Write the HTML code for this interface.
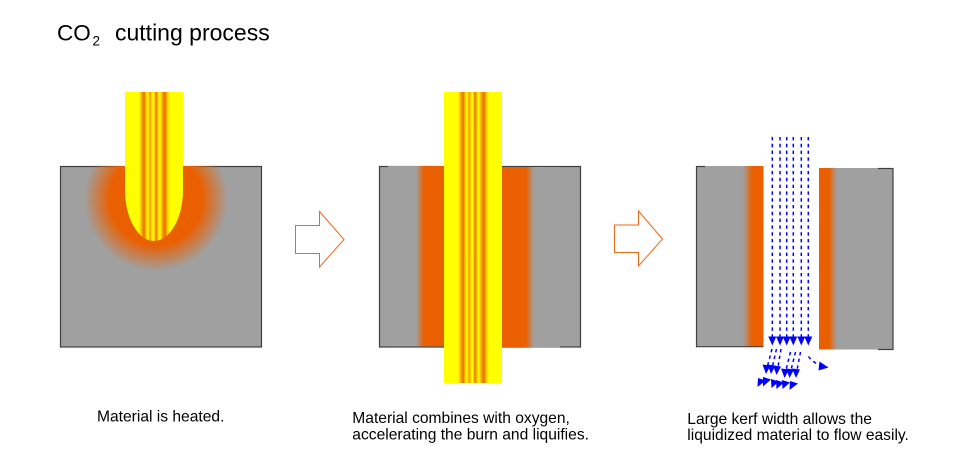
<!DOCTYPE html>
<html>
<head>
<meta charset="utf-8">
<style>
  html,body{margin:0;padding:0;background:#fff;}
  body{width:960px;height:470px;overflow:hidden;}
  svg{display:block;}
  text{font-family:"Liberation Sans",Arial,sans-serif;fill:#000;}
</style>
</head>
<body>
<svg width="960" height="470" viewBox="0 0 960 470" xmlns="http://www.w3.org/2000/svg">
  <defs>
    <linearGradient id="beam" x1="0" y1="0" x2="1" y2="0">
      <stop offset="0" stop-color="#ffff00"/>
      <stop offset="0.241" stop-color="#ffff00"/>
      <stop offset="0.284" stop-color="#f7b800"/>
      <stop offset="0.328" stop-color="#e96d00"/>
      <stop offset="0.362" stop-color="#f8c400"/>
      <stop offset="0.397" stop-color="#ffff00"/>
      <stop offset="0.431" stop-color="#f29a00"/>
      <stop offset="0.466" stop-color="#ffe400"/>
      <stop offset="0.500" stop-color="#ffff00"/>
      <stop offset="0.534" stop-color="#e96d00"/>
      <stop offset="0.569" stop-color="#fbd000"/>
      <stop offset="0.603" stop-color="#ffff00"/>
      <stop offset="0.647" stop-color="#f2a000"/>
      <stop offset="0.690" stop-color="#e96d00"/>
      <stop offset="0.733" stop-color="#fbd000"/>
      <stop offset="0.776" stop-color="#ffff00"/>
      <stop offset="1" stop-color="#ffff00"/>
    </linearGradient>
    <radialGradient id="glow" gradientUnits="userSpaceOnUse" cx="156" cy="199" r="72">
      <stop offset="0" stop-color="#ea5f00" stop-opacity="1"/>
      <stop offset="0.64" stop-color="#ea5f00" stop-opacity="1"/>
      <stop offset="1" stop-color="#ea5f00" stop-opacity="0"/>
    </radialGradient>
    <linearGradient id="p2l" gradientUnits="userSpaceOnUse" x1="416" y1="0" x2="424" y2="0">
      <stop offset="0" stop-color="#a0a0a0"/>
      <stop offset="1" stop-color="#ea5f00"/>
    </linearGradient>
    <linearGradient id="p2r" gradientUnits="userSpaceOnUse" x1="526" y1="0" x2="534" y2="0">
      <stop offset="0" stop-color="#ea5f00"/>
      <stop offset="1" stop-color="#a0a0a0"/>
    </linearGradient>
    <linearGradient id="p3l" gradientUnits="userSpaceOnUse" x1="743" y1="0" x2="752" y2="0">
      <stop offset="0" stop-color="#a0a0a0"/>
      <stop offset="1" stop-color="#ea5f00"/>
    </linearGradient>
    <linearGradient id="p3r" gradientUnits="userSpaceOnUse" x1="829" y1="0" x2="837" y2="0">
      <stop offset="0" stop-color="#ea5f00"/>
      <stop offset="1" stop-color="#a0a0a0"/>
    </linearGradient>
  </defs>

  <!-- Title -->
  <text x="57" y="40.7" font-size="22.5">CO</text>
  <text x="92.5" y="45.5" font-size="13.5">2</text>
  <text x="115" y="40.7" font-size="23">cutting process</text>

  <!-- Panel 1 -->
  <rect x="60.5" y="166.5" width="201" height="180.5" fill="#a0a0a0" stroke="#404040" stroke-width="1.2"/>
  <rect x="61" y="166" width="200" height="180.5" fill="url(#glow)"/>
  <path d="M125,92 H183 V190 A29,51 0 0 1 125,190 Z" fill="url(#beam)"/>

  <!-- Arrow 1 -->
  <polygon points="295.5,225.5 319.5,225.5 319.5,211.5 344,239.5 319.5,267 319.5,253.5 295.5,253.5" fill="#fff" stroke="#ea6a1a" stroke-width="1"/>

  <!-- Panel 2 -->
  <rect x="379.5" y="166.5" width="201" height="180.5" fill="#a0a0a0" stroke="#404040" stroke-width="1.2"/>
  <rect x="388" y="166" width="58" height="180.3" fill="url(#p2l)"/>
  <rect x="502" y="167" width="58" height="180.7" fill="url(#p2r)"/>
  <rect x="444" y="92" width="58" height="291" fill="url(#beam)"/>

  <!-- Arrow 2 -->
  <polygon points="614.5,225 638.5,225 638.5,211 662.5,239 638.5,266 638.5,252.5 614.5,252.5" fill="#fff" stroke="#ea6a1a" stroke-width="1"/>

  <!-- Panel 3 left block -->
  <rect x="696" y="166" width="67.5" height="181" fill="url(#p3l)"/>
  <line x1="696.5" y1="166" x2="696.5" y2="347.2" stroke="#404040" stroke-width="1.2"/>
  <line x1="696" y1="166.5" x2="705" y2="166.5" stroke="#404040" stroke-width="1.2"/>
  <line x1="696" y1="346.7" x2="763.5" y2="346.7" stroke="#404040" stroke-width="1.2"/>

  <!-- Panel 3 right block -->
  <rect x="819" y="168" width="74.5" height="181.5" fill="url(#p3r)"/>
  <line x1="893" y1="168" x2="893" y2="350" stroke="#404040" stroke-width="1.2"/>
  <line x1="878" y1="168.5" x2="893.5" y2="168.5" stroke="#404040" stroke-width="1.2"/>
  <line x1="878" y1="349.5" x2="893.5" y2="349.5" stroke="#404040" stroke-width="1.2"/>

  <!-- Blue dashed flow lines -->
  <g stroke="#0000ff" stroke-width="1.5" stroke-dasharray="3.4 3.4" fill="none">
    <line x1="772.3" y1="137" x2="772.3" y2="338"/>
    <line x1="780" y1="137" x2="780" y2="338"/>
    <line x1="786.7" y1="137" x2="786.7" y2="338"/>
    <line x1="793.3" y1="137" x2="793.3" y2="338"/>
    <line x1="801.3" y1="137" x2="801.3" y2="338"/>
    <line x1="808.3" y1="137" x2="808.3" y2="338"/>
    <!-- second row -->
    <line x1="772" y1="349" x2="767.5" y2="366"/>
    <line x1="776.5" y1="349" x2="772.5" y2="366"/>
    <line x1="781" y1="349" x2="778" y2="367"/>
    <line x1="790.5" y1="352" x2="786" y2="370"/>
    <line x1="795.5" y1="352" x2="791" y2="370"/>
    <line x1="800.5" y1="352" x2="797" y2="370"/>
    <!-- side -->
    <path d="M808.5,356.5 Q812,362 821,365.5"/>
  </g>
  <g fill="#0000ff">
    <polygon points="768.3,336.5 776.3,336.5 772.3,345.5"/>
    <polygon points="776,336.5 784,336.5 780,345.5"/>
    <polygon points="782.7,336.5 790.7,336.5 786.7,345.5"/>
    <polygon points="789.3,336.5 797.3,336.5 793.3,345.5"/>
    <polygon points="797.3,336.5 805.3,336.5 801.3,345.5"/>
    <polygon points="804.3,336.5 812.3,336.5 808.3,345.5"/>
    <!-- row 2 heads -->
    <polygon points="762.5,364.5 770.5,365.5 766,374"/>
    <polygon points="767.5,364.5 775.5,365.5 771,374"/>
    <polygon points="773,365.5 781,366.5 776.5,375"/>
    <polygon points="781,368.5 789,369.5 784.5,378"/>
    <polygon points="786,368.5 794,369.5 789.5,378"/>
    <polygon points="792,368.5 800,369.5 796,378"/>
    <!-- row 3 heads -->
    <polygon points="758,378 766,380.5 757.5,387"/>
    <polygon points="763,377 771,379.5 763,386.5"/>
    <polygon points="771,379 779,381.5 771.5,388"/>
    <polygon points="776,380 784,382.5 776.5,389"/>
    <polygon points="782,380 790,382.5 782.5,389"/>
    <polygon points="790,381 798,383.5 789.5,390"/>
    <!-- side head -->
    <polygon points="819.5,361.5 828.5,367.5 818.5,370.5"/>
  </g>

  <!-- Captions -->
  <text x="97" y="421.7" font-size="15.6">Material is heated.</text>
  <text x="352.3" y="423" font-size="15.6">Material combines with oxygen,</text>
  <text x="352.3" y="439.3" font-size="15.6">accelerating the burn and liquifies.</text>
  <text x="687.3" y="423.8" font-size="15.6">Large kerf width allows the</text>
  <text x="687.3" y="440" font-size="15.6">liquidized material to flow easily.</text>
</svg>
</body>
</html>
